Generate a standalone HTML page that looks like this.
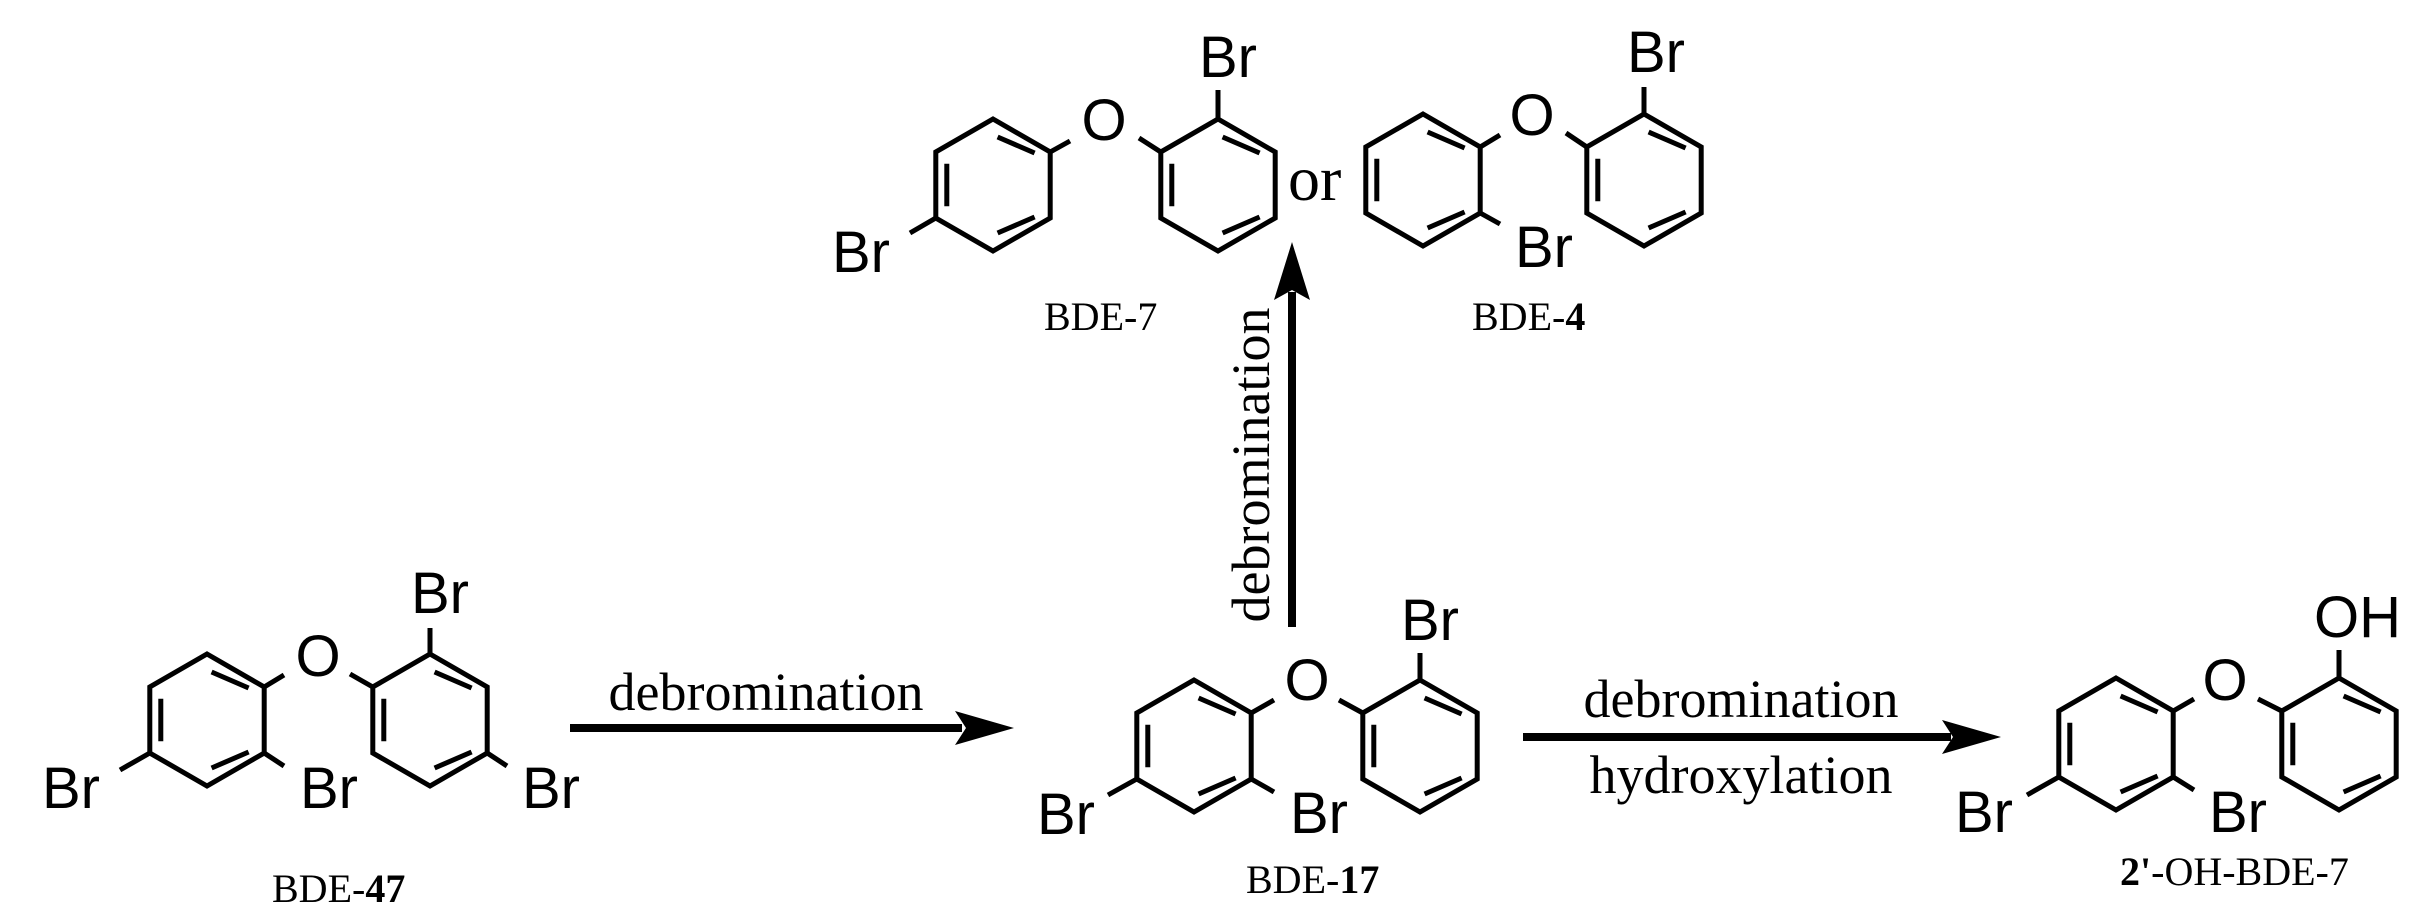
<!DOCTYPE html>
<html><head><meta charset="utf-8"><style>
html,body{margin:0;padding:0;background:#fff;}
svg{display:block;}
.a{font-family:"Liberation Sans",sans-serif;font-size:58px;fill:#000;}
.t{font-family:"Liberation Serif",serif;fill:#000;}
</style></head><body>
<svg width="2427" height="921" viewBox="0 0 2427 921" xmlns="http://www.w3.org/2000/svg">
<defs>
<g id="ring" fill="none" stroke="#000" stroke-width="5" stroke-linejoin="miter">
<polygon points="0,-66 57.2,-33 57.2,33 0,66 -57.2,33 -57.2,-33"/>
<line x1="4.6" y1="-48" x2="41.6" y2="-32"/>
<line x1="-46.2" y1="-21.3" x2="-46.2" y2="21.3"/>
<line x1="41.6" y1="32" x2="4.6" y2="48"/>
</g>
</defs>
<!-- rings -->
<use href="#ring" x="207" y="720"/><use href="#ring" x="430" y="720"/>
<use href="#ring" x="1194" y="746"/><use href="#ring" x="1420" y="746"/>
<use href="#ring" x="2116" y="744"/><use href="#ring" x="2339" y="744"/>
<use href="#ring" x="993" y="185"/><use href="#ring" x="1218" y="185"/>
<use href="#ring" x="1423" y="180"/><use href="#ring" x="1644" y="180"/>
<g stroke="#000" stroke-width="5" fill="none">
<!-- BDE-47 -->
<line x1="264.2" y1="687" x2="284" y2="675"/><line x1="350" y1="674" x2="372.8" y2="687"/>
<line x1="430" y1="654" x2="430" y2="628"/>
<line x1="149.8" y1="753" x2="120" y2="770"/>
<line x1="264.2" y1="753" x2="284" y2="766"/>
<line x1="487.2" y1="753" x2="507" y2="766"/>
<!-- BDE-17 -->
<line x1="1251.2" y1="713" x2="1274" y2="700"/><line x1="1339" y1="700" x2="1362.8" y2="713"/>
<line x1="1420" y1="680" x2="1420" y2="653"/>
<line x1="1251.2" y1="779" x2="1274" y2="792"/>
<line x1="1136.8" y1="779" x2="1108" y2="795"/>
<!-- product -->
<line x1="2173.2" y1="711" x2="2194" y2="699"/><line x1="2258" y1="699" x2="2281.8" y2="711"/>
<line x1="2339" y1="678" x2="2339" y2="650"/>
<line x1="2058.8" y1="777" x2="2027" y2="795"/>
<line x1="2173.2" y1="777" x2="2194" y2="790"/>
<!-- BDE-7 -->
<line x1="935.8" y1="218" x2="910" y2="233"/>
<line x1="1050.2" y1="152" x2="1070" y2="141"/><line x1="1139" y1="138" x2="1160.8" y2="152"/>
<line x1="1218" y1="119" x2="1218" y2="90"/>
<!-- BDE-4 -->
<line x1="1480.2" y1="147" x2="1500" y2="135"/><line x1="1566" y1="133" x2="1586.8" y2="147"/>
<line x1="1480.2" y1="213" x2="1500" y2="224"/>
<line x1="1644" y1="114" x2="1644" y2="87"/>
</g>
<!-- atom labels -->
<g class="a">
<text x="318" y="676" text-anchor="middle">O</text>
<text x="411" y="613">Br</text>
<text x="42" y="808">Br</text>
<text x="300" y="808">Br</text>
<text x="522" y="808">Br</text>
<text x="1307" y="700" text-anchor="middle">O</text>
<text x="1401" y="640">Br</text>
<text x="1290" y="833">Br</text>
<text x="1037" y="834">Br</text>
<text x="2225" y="700" text-anchor="middle">O</text>
<text x="2314" y="637">OH</text>
<text x="1955" y="832">Br</text>
<text x="2209" y="832">Br</text>
<text x="832" y="272">Br</text>
<text x="1104" y="140" text-anchor="middle">O</text>
<text x="1199" y="77">Br</text>
<text x="1532" y="135" text-anchor="middle">O</text>
<text x="1515" y="267">Br</text>
<text x="1627" y="72">Br</text>
</g>
<text class="t" x="1288" y="200" font-size="64">or</text>
<!-- arrows -->
<line x1="570" y1="728" x2="962" y2="728" stroke="#000" stroke-width="8"/>
<polygon points="1014,728 955,711 966,728 955,745" fill="#000"/>
<line x1="1523" y1="737" x2="1951" y2="737" stroke="#000" stroke-width="8"/>
<polygon points="2001,737 1942,720 1953,737 1942,754" fill="#000"/>
<line x1="1292" y1="627" x2="1292" y2="292" stroke="#000" stroke-width="8"/>
<polygon points="1292,242 1274,300 1292,290 1310,300" fill="#000"/>
<!-- arrow labels -->
<g class="t" font-size="54">
<text x="766" y="710" text-anchor="middle">debromination</text>
<text x="1741" y="717" text-anchor="middle">debromination</text>
<text x="1741" y="793" text-anchor="middle">hydroxylation</text>
<text x="1269" y="465" text-anchor="middle" transform="rotate(-90 1269 465)">debromination</text>
</g>
<!-- compound labels -->
<g class="t" font-size="40">
<text x="1044" y="330">BDE-7</text>
<text x="1472" y="330">BDE-<tspan font-weight="bold">4</tspan></text>
<text x="272" y="902">BDE-<tspan font-weight="bold">47</tspan></text>
<text x="1246" y="893">BDE-<tspan font-weight="bold">17</tspan></text>
<text x="2120" y="885"><tspan font-weight="bold">2'</tspan>-OH-BDE-7</text>
</g>
</svg>
</body></html>
